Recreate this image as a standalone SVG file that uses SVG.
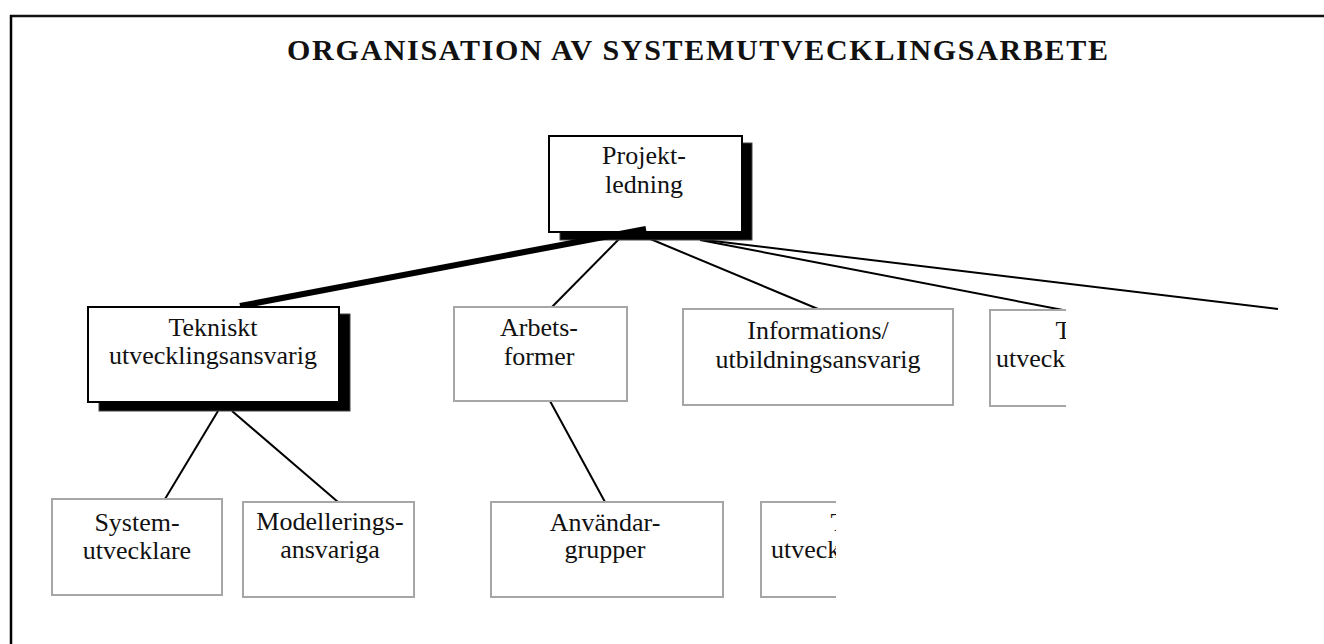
<svg xmlns="http://www.w3.org/2000/svg" width="1324" height="644" viewBox="0 0 1324 644">
  <style>
    .lbl { font-family: "Liberation Serif", "Times New Roman", serif; font-size: 26px; fill: #111; text-anchor: middle; }
    .title { font-family: "Liberation Serif", "Times New Roman", serif; font-size: 30px; font-weight: bold; fill: #111; }
    .main { fill: #fff; stroke: #000; stroke-width: 2; }
    .shadow { fill: #000; stroke: #444; stroke-width: 1; }
    .sub { fill: #fff; stroke: #a6a6a6; stroke-width: 2; }
    .conn { stroke: #000; stroke-width: 2; fill: none; }
  </style>
  <defs>
    <clipPath id="cutUpper"><rect x="0" y="0" width="1066" height="644"/></clipPath>
    <clipPath id="cutLower"><rect x="0" y="0" width="836" height="644"/></clipPath>
  </defs>
  <rect x="0" y="0" width="1324" height="644" fill="#fff"/>

  <!-- page frame: top and left rules -->
  <line x1="10" y1="16" x2="1324" y2="16" stroke="#111" stroke-width="2.5"/>
  <line x1="11" y1="15" x2="11" y2="644" stroke="#000" stroke-width="2.5"/>

  <text class="title" x="287" y="60" textLength="821" lengthAdjust="spacing">ORGANISATION  AV  SYSTEMUTVECKLINGSARBETE</text>

  <!-- connectors -->
  <g id="connectors">
    <line class="conn" x1="624" y1="234" x2="550" y2="309"/>
    <line class="conn" x1="648" y1="238" x2="818" y2="309"/>
    <line class="conn" x1="700" y1="240" x2="1063" y2="310"/>
    <line class="conn" x1="705" y1="240" x2="1278" y2="309"/>
    <line class="conn" x1="218" y1="411" x2="165" y2="499"/>
    <line class="conn" x1="232" y1="411" x2="338" y2="502"/>
    <line class="conn" x1="550" y1="401" x2="605" y2="502"/>
  </g>

  <g id="projektledning">
    <rect class="shadow" x="560" y="143" width="192" height="97"/>
    <rect class="main" x="549" y="136" width="193" height="96"/>
    <text class="lbl" x="644" y="164">Projekt-</text>
    <text class="lbl" x="644" y="193">ledning</text>
  </g>

  <!-- heavy link to the technical lead -->
  <line id="link-tekniskt" x1="240" y1="306" x2="646" y2="229" stroke="#000" stroke-width="6"/>

  <g id="tekniskt">
    <rect class="shadow" x="99" y="314" width="251" height="97"/>
    <rect class="main" x="88" y="307" width="251" height="95"/>
    <text class="lbl" x="213" y="336">Tekniskt</text>
    <text class="lbl" x="213" y="364">utvecklingsansvarig</text>
  </g>

  <g id="arbetsformer">
    <rect class="sub" x="454" y="307" width="173" height="94"/>
    <text class="lbl" x="539" y="336">Arbets-</text>
    <text class="lbl" x="539" y="365">former</text>
  </g>

  <g id="informations">
    <rect class="sub" x="683" y="309" width="270" height="96"/>
    <text class="lbl" x="818" y="339">Informations/</text>
    <text class="lbl" x="818" y="368">utbildningsansvarig</text>
  </g>

  <g id="tekniskt-2" clip-path="url(#cutUpper)">
    <rect class="sub" x="990" y="310" width="220" height="96"/>
    <text class="lbl" x="1100" y="339">Tekniskt</text>
    <text class="lbl" x="1100" y="367">utvecklingsansvarig</text>
  </g>

  <g id="systemutvecklare">
    <rect class="sub" x="52" y="499" width="170" height="96"/>
    <text class="lbl" x="137" y="531">System-</text>
    <text class="lbl" x="137" y="559">utvecklare</text>
  </g>

  <g id="modellering">
    <rect class="sub" x="243" y="502" width="171" height="95"/>
    <text class="lbl" x="330" y="530">Modellerings-</text>
    <text class="lbl" x="330" y="558">ansvariga</text>
  </g>

  <g id="anvandargrupper">
    <rect class="sub" x="491" y="502" width="232" height="95"/>
    <text class="lbl" x="605" y="531">Användar-</text>
    <text class="lbl" x="605" y="558">grupper</text>
  </g>

  <g id="tekniskt-3" clip-path="url(#cutLower)">
    <rect class="sub" x="761" y="502" width="226" height="95"/>
    <text class="lbl" x="875" y="531">Tekniskt</text>
    <text class="lbl" x="875" y="558">utvecklingsansvarig</text>
  </g>
</svg>
